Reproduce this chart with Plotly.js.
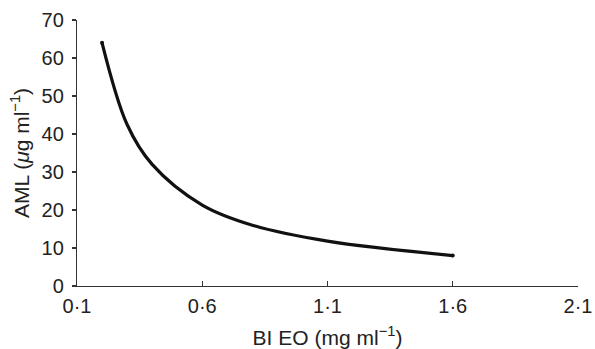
<!DOCTYPE html>
<html><head><meta charset="utf-8">
<script src="https://cdn.plot.ly/plotly-3.0.1.min.js"></script>
<style>html,body{margin:0;padding:0;background:#fff}#c{width:595px;height:349px}</style>
</head><body><div id="c"></div>
<script>
const xValues = [0.2, 0.3, 0.4, 0.6, 0.8, 1.1, 1.6];
const amlValues = [64, 42.5, 32, 21.3, 16, 11.8, 8];
const xTickVals = [0.1, 0.6, 1.1, 1.6, 2.1];
const xTickText = ['0·1', '0·6', '1·1', '1·6', '2·1'];
const yTickVals = [0, 10, 20, 30, 40, 50, 60, 70];

const tickFont = {family: 'Liberation Sans, Arial, sans-serif', size: 20, color: '#222'};
const titleFont = {family: 'Liberation Sans, Arial, sans-serif', size: 21, color: '#222'};
Plotly.newPlot('c', [{
  x: xValues, y: amlValues, type: 'scatter', mode: 'lines',
  line: {color: '#111', width: 3.2, shape: 'spline', smoothing: 1},
  hoverinfo: 'none'
}, {
  x: [xValues[0], xValues[xValues.length-1]], y: [amlValues[0], amlValues[amlValues.length-1]],
  type: 'scatter', mode: 'markers', marker: {color: '#111', size: 4}, hoverinfo: 'none'
}], {
  width: 595, height: 349,
  margin: {l: 77, r: 17, t: 20, b: 63},
  showlegend: false,
  paper_bgcolor: '#fff', plot_bgcolor: '#fff',
  font: tickFont,
  xaxis: {
    range: [0.1, 2.1], tickvals: xTickVals, ticktext: xTickText,
    showline: true, linecolor: '#333', linewidth: 1.2, showgrid: false, zeroline: false,
    ticks: 'inside', ticklen: 5, tickcolor: '#333', tickwidth: 1.2,
    tickfont: tickFont, ticklabelstandoff: 2,
    title: {text: 'BI EO (mg ml<sup>−1</sup>)', font: titleFont, standoff: 14}
  },
  yaxis: {
    range: [0, 70], tickvals: yTickVals,
    showline: true, linecolor: '#333', linewidth: 1.2, showgrid: false, zeroline: false,
    ticks: 'outside', ticklen: 4, tickcolor: '#333', tickwidth: 1.2,
    tickfont: tickFont, ticklabelstandoff: 4,
    title: {text: 'AML (<i>μ</i>g ml<sup>−1</sup>)', font: titleFont, standoff: 6}
  }
}, {staticPlot: true});
</script></body></html>
